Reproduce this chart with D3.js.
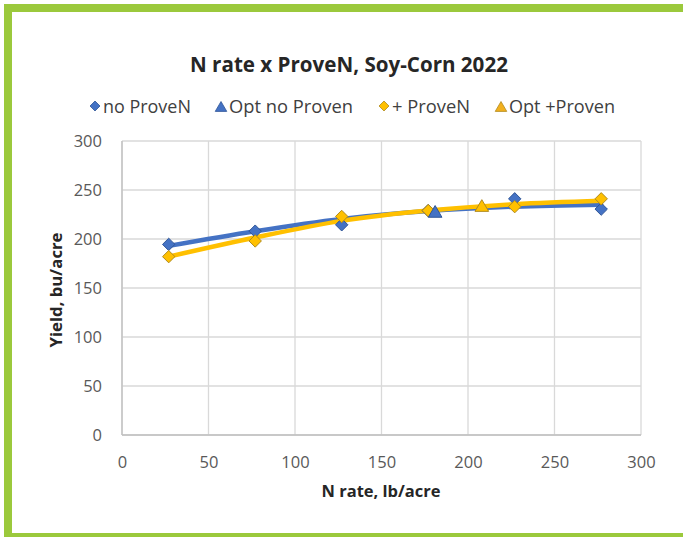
<!DOCTYPE html>
<html><head><meta charset="utf-8">
<script src="https://cdn.jsdelivr.net/npm/d3@7"></script>
<style>html,body{margin:0;padding:0;background:#fff;} svg{display:block;}</style>
</head><body>
<script>
// ---- data ----
const nRates = [27, 77, 127, 177, 227, 277];
const noProveN = [194.5, 208, 214.5, 229, 241, 230.5];
const plusProveN = [182, 198, 223, 229, 233, 241];
const optNoProven = [{x: 181, y: 227.5}];
const optPlusProven = [{x: 208, y: 233.5}];
// fitted trend curves at the N rates
const trendNoProveN = [193, 208, 220.5, 228.5, 233, 235];
const trendPlusProveN = [182, 201.5, 218.5, 229, 235.5, 239];
const xTicks = [0, 50, 100, 150, 200, 250, 300];
const yTicks = [0, 50, 100, 150, 200, 250, 300];
const title = "N rate x ProveN, Soy-Corn 2022";
const xTitle = "N rate, lb/acre";
const yTitle = "Yield, bu/acre";
const legendItems = [
  {label: "no ProveN", shape: "diamond", color: "#4472C4", stroke: "#2F5597", x: 95, w: 88},
  {label: "Opt no Proven", shape: "triangle", color: "#4472C4", stroke: "#2F5597", x: 221, w: 124},
  {label: "+ ProveN", shape: "diamond", color: "#FFC000", stroke: "#B08A1E", x: 384, w: 78},
  {label: "Opt +Proven", shape: "triangle", color: "#F2B01E", stroke: "#B08A1E", x: 501, w: 106}
];

const W = 683, H = 537;
const FONT = "'Open Sans', Lato, sans-serif";
const svg = d3.select("body").append("svg").attr("width", W).attr("height", H)
  .style("font-family", FONT);

// scale font size of a text so that it spans a target width
function fit(sel, target) {
  sel.each(function() {
    const fs = parseFloat(d3.select(this).attr("font-size"));
    const len = this.getComputedTextLength();
    if (len > 0) d3.select(this).attr("font-size", (fs * target / len).toFixed(2));
  });
}

// green frame
const green = "#9BC93C";
svg.append("rect").attr("x", 4).attr("y", 4).attr("width", W - 4).attr("height", 8).attr("fill", green);
svg.append("rect").attr("x", 4).attr("y", 4).attr("width", 8).attr("height", H - 4).attr("fill", green);
svg.append("rect").attr("x", 4).attr("y", 533).attr("width", W - 4).attr("height", 4).attr("fill", green);

const x = d3.scaleLinear().domain([0, 300]).range([122, 641]);
const y = d3.scaleLinear().domain([0, 300]).range([435, 141]);

// grid
const g = svg.append("g");
g.selectAll(".vg").data(xTicks).join("line")
  .attr("x1", d => x(d)).attr("x2", d => x(d)).attr("y1", y(0)).attr("y2", y(300))
  .attr("stroke", "#D9D9D9").attr("stroke-width", 1.3);
g.selectAll(".hg").data(yTicks).join("line")
  .attr("x1", x(0)).attr("x2", x(300)).attr("y1", d => y(d)).attr("y2", d => y(d))
  .attr("stroke", "#D9D9D9").attr("stroke-width", 1.3);
g.append("line").attr("x1", x(0)).attr("x2", x(0)).attr("y1", y(0)).attr("y2", y(300)).attr("stroke", "#BFBFBF").attr("stroke-width", 1.3);
g.append("line").attr("x1", x(0)).attr("x2", x(300)).attr("y1", y(0)).attr("y2", y(0)).attr("stroke", "#BFBFBF").attr("stroke-width", 1.3);

// tick labels via d3 axes
const xAxis = svg.append("g").attr("transform", `translate(0,${y(0)})`)
  .call(d3.axisBottom(x).tickValues(xTicks).tickSize(0).tickPadding(21));
xAxis.select(".domain").remove();
xAxis.selectAll("text").attr("fill", "#595959").style("font-size", "16.5px").style("font-family", FONT);
const yAxis = svg.append("g").attr("transform", `translate(${x(0)},0)`)
  .call(d3.axisLeft(y).tickValues(yTicks).tickSize(0).tickPadding(20));
yAxis.select(".domain").remove();
yAxis.selectAll("text").attr("fill", "#595959").style("font-size", "16.5px").style("font-family", FONT);

// titles
svg.append("text").attr("x", 349).attr("y", 71.5).attr("text-anchor", "middle")
  .attr("font-weight", "bold").attr("font-size", 20).attr("fill", "#262626").text(title)
  .call(fit, 318);
svg.append("text").attr("x", 381).attr("y", 497).attr("text-anchor", "middle")
  .attr("font-weight", "bold").attr("font-size", 16).attr("fill", "#262626").text(xTitle)
  .call(fit, 119);
svg.append("text").attr("transform", "translate(62,290) rotate(-90)").attr("text-anchor", "middle")
  .attr("font-weight", "bold").attr("font-size", 16).attr("fill", "#262626").text(yTitle)
  .call(fit, 115);

// trend lines
const line = d3.line().x(d => x(d[0])).y(d => y(d[1])).curve(d3.curveMonotoneX);
svg.append("path").attr("d", line(nRates.map((r, i) => [r, trendNoProveN[i]])))
  .attr("fill", "none").attr("stroke", "#4472C4").attr("stroke-width", 4.5).attr("stroke-linecap", "round");
svg.append("path").attr("d", line(nRates.map((r, i) => [r, trendPlusProveN[i]])))
  .attr("fill", "none").attr("stroke", "#FFC000").attr("stroke-width", 4.5).attr("stroke-linecap", "round");

const diamond = (cx, cy, r) => `M${cx},${cy - r}L${cx + r},${cy}L${cx},${cy + r}L${cx - r},${cy}Z`;
const tri = (cx, cy, r) => `M${cx},${cy - r}L${cx + r * 1.05},${cy + r * 0.8}L${cx - r * 1.05},${cy + r * 0.8}Z`;

svg.append("g").selectAll("path").data(nRates.map((r, i) => [r, noProveN[i]])).join("path")
  .attr("d", d => diamond(x(d[0]), y(d[1]), 6.2)).attr("fill", "#4472C4").attr("stroke", "#2F5597").attr("stroke-width", 1);
svg.append("g").selectAll("path").data(nRates.map((r, i) => [r, plusProveN[i]])).join("path")
  .attr("d", d => diamond(x(d[0]), y(d[1]), 6.2)).attr("fill", "#FFC000").attr("stroke", "#B08A1E").attr("stroke-width", 1);
svg.append("g").selectAll("path").data(optNoProven).join("path")
  .attr("d", d => tri(x(d.x), y(d.y), 6.5)).attr("fill", "#4472C4").attr("stroke", "#2F5597").attr("stroke-width", 1);
svg.append("g").selectAll("path").data(optPlusProven).join("path")
  .attr("d", d => tri(x(d.x), y(d.y), 6.5)).attr("fill", "#FFC000").attr("stroke", "#B08A1E").attr("stroke-width", 1);

// legend
const lg = svg.append("g").selectAll("g").data(legendItems).join("g");
lg.append("path").attr("d", d => d.shape === "diamond" ? diamond(d.x, 106, 5) : tri(d.x, 107, 5.5))
  .attr("fill", d => d.color).attr("stroke", d => d.stroke).attr("stroke-width", 0.8);
lg.append("text").attr("x", d => d.x + 8).attr("y", 112.5).attr("font-size", 17).attr("fill", "#404040")
  .text(d => d.label)
  .each(function(d) { d3.select(this).call(fit, d.w); });
</script>
</body></html>
